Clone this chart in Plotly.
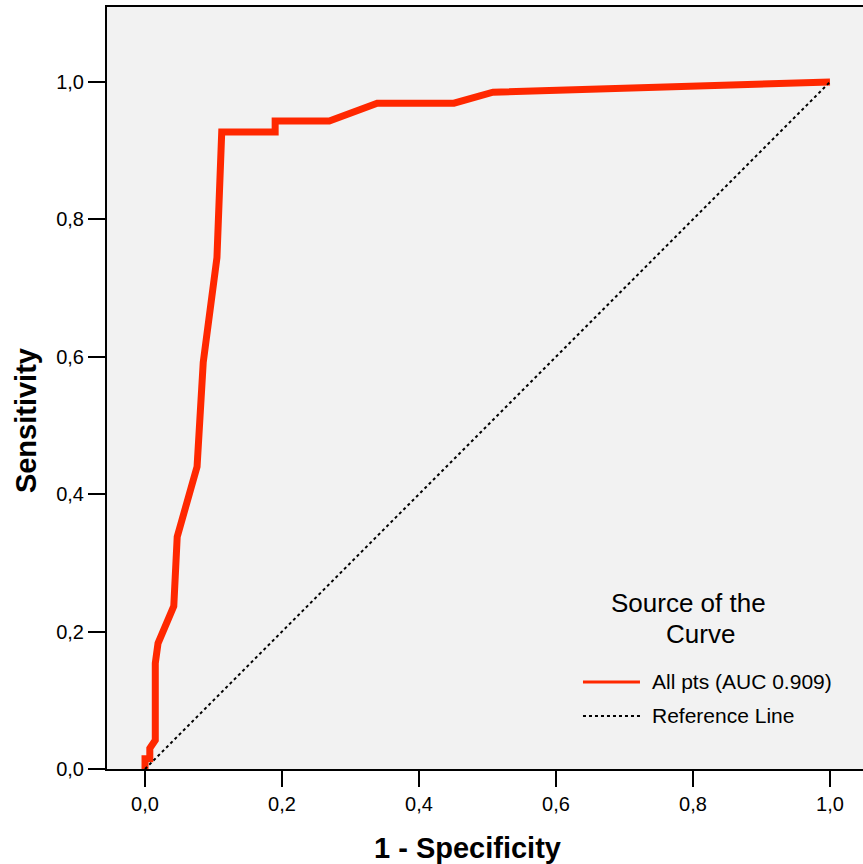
import plotly.graph_objects as go

# ROC curve points (1 - specificity, sensitivity)
fpr = [0.0, 0.0, 0.007, 0.007, 0.015, 0.015, 0.019, 0.042, 0.047, 0.076,
       0.085, 0.105, 0.112, 0.190, 0.190, 0.269, 0.339, 0.451, 0.508, 1.0]
tpr = [0.0, 0.015, 0.015, 0.030, 0.042, 0.154, 0.183, 0.237, 0.338, 0.440,
       0.592, 0.744, 0.927, 0.927, 0.943, 0.943, 0.969, 0.969, 0.985, 1.0]

ref_x = [0.0, 1.0]
ref_y = [0.0, 1.0]

tick_vals = [0.0, 0.2, 0.4, 0.6, 0.8, 1.0]

curve_name = "All pts (AUC 0.909)"
ref_name = "Reference Line"
legend_title_1 = "Source of the"
legend_title_2 = "Curve"

FONT = "Liberation Sans, Arial, sans-serif"
RED = "#ff2800"

fig = go.Figure()
fig.add_trace(go.Scatter(
    x=fpr, y=tpr, mode="lines", name=curve_name,
    line=dict(color=RED, width=7), showlegend=False,
))
fig.add_trace(go.Scatter(
    x=ref_x, y=ref_y, mode="lines", name=ref_name,
    line=dict(color="black", width=2, dash="dot"), showlegend=False,
))

# Legend (drawn in paper coordinates)
leg_x0, leg_x1, leg_tx = 0.6296, 0.7050, 0.7180
leg_y1, leg_y2 = 0.1142, 0.0696
shapes = [
    dict(type="line", xref="paper", yref="paper", x0=leg_x0, x1=leg_x1,
         y0=leg_y1, y1=leg_y1, line=dict(color=RED, width=3)),
    dict(type="line", xref="paper", yref="paper", x0=leg_x0, x1=leg_x1,
         y0=leg_y2, y1=leg_y2, line=dict(color="black", width=2, dash="dot")),
]
annotations = [
    dict(text=legend_title_1, xref="paper", yref="paper", x=0.7698, y=0.2178,
         xanchor="center", yanchor="middle", showarrow=False,
         font=dict(size=26, family=FONT)),
    dict(text=legend_title_2, xref="paper", yref="paper", x=0.7844, y=0.1772,
         xanchor="center", yanchor="middle", showarrow=False,
         font=dict(size=26, family=FONT)),
    dict(text=curve_name, xref="paper", yref="paper", x=leg_tx, y=leg_y1,
         xanchor="left", yanchor="middle", showarrow=False,
         font=dict(size=21, family=FONT)),
    dict(text=ref_name, xref="paper", yref="paper", x=leg_tx, y=leg_y2,
         xanchor="left", yanchor="middle", showarrow=False,
         font=dict(size=21, family=FONT)),
    dict(text="<b>1 - Specificity</b>", xref="paper", yref="paper",
         x=0.4775, y=-0.1037, xanchor="center", yanchor="middle",
         showarrow=False, font=dict(size=29, family=FONT)),
    dict(text="<b>Sensitivity</b>", xref="paper", yref="paper",
         x=-0.107, y=0.4567, xanchor="center", yanchor="middle",
         textangle=-90, showarrow=False, font=dict(size=29, family=FONT)),
]

fig.update_layout(
    width=863, height=864,
    margin=dict(l=107, r=0, t=7, b=95),
    paper_bgcolor="white",
    plot_bgcolor="#f2f2f2",
    separators=",.",
    font=dict(family=FONT, color="black", size=20),
    showlegend=False,
    shapes=shapes,
    annotations=annotations,
)

fig.update_xaxes(
    range=[-0.0555, 1.0482], tickvals=tick_vals, tickformat=".1f",
    showgrid=False, zeroline=False,
    showline=True, linecolor="black", linewidth=2, mirror=True,
    ticks="outside", ticklen=16, tickwidth=2, tickcolor="black",
    tickfont=dict(size=20, family=FONT),
)
fig.update_yaxes(
    range=[0, 1.109], tickvals=tick_vals, tickformat=".1f",
    showgrid=False, zeroline=False,
    showline=True, linecolor="black", linewidth=2,
    ticks="outside", ticklen=17, tickwidth=2, tickcolor="black",
    tickfont=dict(size=20, family=FONT),
)

fig.write_html("out.html")
